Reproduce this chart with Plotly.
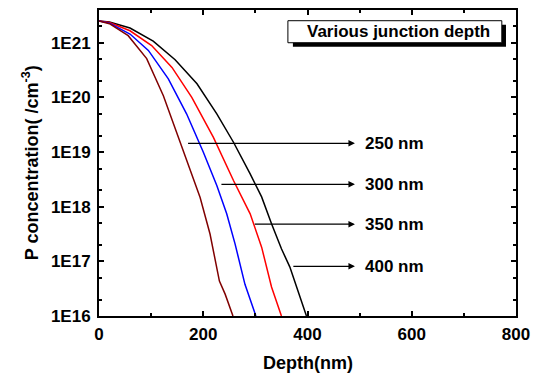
import plotly.graph_objects as go
import numpy as np

# Depth (nm) and log10 of P concentration for each junction depth
x_400 = [0, 20, 59.5, 104, 146, 188, 226, 258, 290, 312, 331, 350, 366, 382, 398]
y_400 = [21.40, 21.38, 21.27, 21.03, 20.69, 20.25, 19.70, 19.18, 18.60, 18.18, 17.69, 17.23, 16.90, 16.47, 16.0]
x_350 = [0, 20, 59.5, 101, 140, 178, 219.5, 258, 290, 312, 331, 350]
y_350 = [21.40, 21.37, 21.22, 20.95, 20.55, 20.00, 19.27, 18.48, 17.87, 17.26, 16.53, 16.0]
x_300 = [0, 20, 59.5, 94.7, 133, 168, 200, 226, 245, 261, 280, 301]
y_300 = [21.40, 21.36, 21.16, 20.86, 20.34, 19.70, 19.00, 18.39, 17.87, 17.32, 16.58, 16.0]
x_250 = [0, 20, 56, 91.5, 123.5, 162, 194, 213, 231, 242, 257]
y_250 = [21.40, 21.35, 21.13, 20.71, 20.03, 19.03, 18.17, 17.50, 16.64, 16.40, 16.0]

labels = ["250 nm", "300 nm", "350 nm", "400 nm"]
arrow_tail_x = [168, 232, 296, 370]
arrow_y = [19.16, 18.41, 17.68, 16.91]
arrow_head_x = 491
label_x = 506

ytick_vals = [16, 17, 18, 19, 20, 21]
ytick_text = ["1E16", "1E17", "1E18", "1E19", "1E20", "1E21"]

FONT = "Liberation Sans, Arial, sans-serif"

fig = go.Figure()
series = [(x_400, y_400, "#000000"), (x_350, y_350, "#FF0000"),
          (x_300, y_300, "#0000FF"), (x_250, y_250, "#800000")]
for xs, ys, c in series:
    fig.add_trace(go.Scatter(x=xs, y=[10.0 ** v for v in ys], mode="lines",
                             line=dict(color=c, width=1.5), showlegend=False))

for lab, tx, ay in zip(labels, arrow_tail_x, arrow_y):
    fig.add_annotation(x=arrow_head_x, y=ay, ax=tx, ay=ay, xref="x", yref="y",
                       axref="x", ayref="y", text="", showarrow=True,
                       arrowhead=2, arrowsize=1, arrowwidth=1.3, arrowcolor="black",
                       standoff=0)
    fig.add_annotation(x=label_x, y=ay, xref="x", yref="y", text="<b>%s</b>" % lab,
                       showarrow=False, xanchor="left", yanchor="middle",
                       font=dict(family=FONT, size=17, color="black"))

# legend-like box with shadow
fig.add_shape(type="rect", xref="paper", yref="paper", x0=0.465, x1=0.976,
              y0=0.880, y1=0.952, fillcolor="black", line=dict(width=0))
fig.add_shape(type="rect", xref="paper", yref="paper", x0=0.453, x1=0.966,
              y0=0.893, y1=0.965, fillcolor="white", line=dict(color="black", width=1))
fig.add_annotation(x=0.719, y=0.929, xref="paper", yref="paper",
                   text="<b>Various junction depth</b>", showarrow=False,
                   xanchor="center", yanchor="middle",
                   font=dict(family=FONT, size=17, color="black"))

fig.add_annotation(x=-0.165, y=0.5, xref="paper", yref="paper", textangle=-90,
                   text="<b>P concentration( /cm<sup>-3</sup>)</b>", showarrow=False,
                   xanchor="center", yanchor="middle",
                   font=dict(family=FONT, size=18, color="black"))

fig.add_annotation(x=0.5, y=-0.154, xref="paper", yref="paper",
                   text="<b>Depth(nm)</b>", showarrow=False,
                   xanchor="center", yanchor="middle",
                   font=dict(family=FONT, size=18, color="black"))

fig.update_layout(
    width=535, height=374,
    margin=dict(l=99, r=19, t=10, b=58, autoexpand=False),
    paper_bgcolor="white", plot_bgcolor="white",
    font=dict(family=FONT, size=17, color="black"),
    xaxis=dict(range=[0, 800], dtick=200, tick0=0, ticks="inside", ticklen=5,
               tickwidth=1.5, tickcolor="black", showline=True, linewidth=2,
               linecolor="black", mirror="allticks", showgrid=False, zeroline=False,
               ticklabelstandoff=2, automargin=False,
               tickfont=dict(family=FONT, size=17, color="black", weight="bold"),
               minor=dict(dtick=100, ticks="inside", ticklen=3, tickcolor="black", showgrid=False)),
    yaxis=dict(type="log", range=[16, 21.6], tickvals=[10.0 ** v for v in ytick_vals],
               ticktext=ytick_text, ticks="inside", ticklen=5, tickwidth=1.5,
               tickcolor="black", showline=True, linewidth=2, linecolor="black",
               mirror="allticks", showgrid=False, zeroline=False,
               ticklabelstandoff=3, automargin=False,
               tickfont=dict(family=FONT, size=17, color="black", weight="bold"),
               minor=dict(ticks="inside", ticklen=3, tickcolor="black", showgrid=False)),
)

fig.write_html("out.html")
